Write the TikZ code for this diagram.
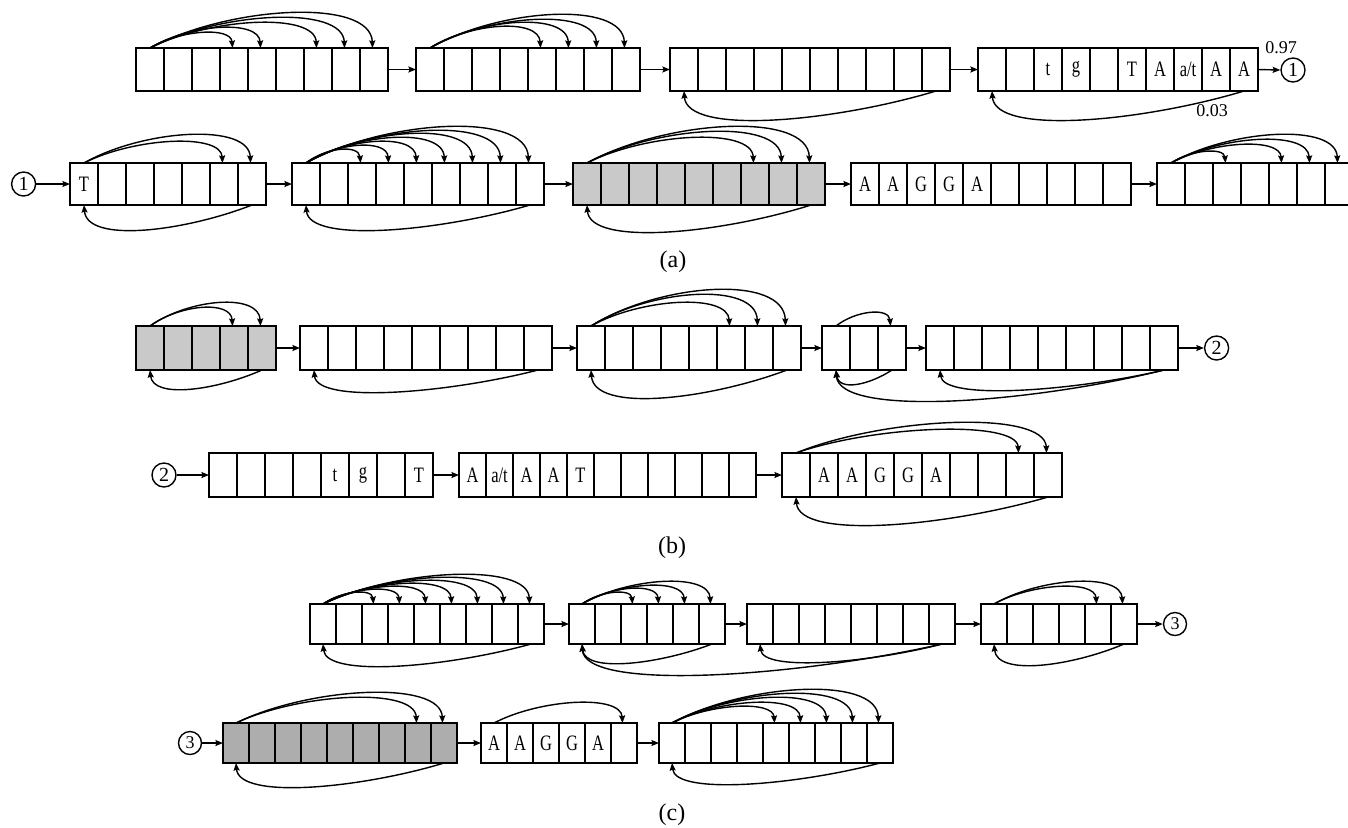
\documentclass[tikz,border=0pt]{standalone}
\usepackage{fontspec}
\setmainfont{Liberation Serif}
\usetikzlibrary{calc,arrows.meta}

\tikzset{
  cell/.style={rectangle, inner sep=0pt, outer sep=0pt, fill=white},
  boxline/.style={line width=0.8pt},
  shadeA/.style={fill=gray!42},
  shadeB/.style={fill=gray!64},
  link/.style={line width=0.7pt, -{Stealth[length=3.8pt,width=3pt,inset=0.6pt]}},
  celltext/.style={inner sep=0pt, font=\fontsize{11}{12}\selectfont},
  endmark/.style={draw, circle, line width=0.7pt, inner sep=0pt, minimum size=12pt, font=\fontsize{10}{11}\selectfont},
  problabel/.style={inner sep=0pt, font=\fontsize{9}{10}\selectfont},
  panel/.style={inner sep=0pt, font=\fontsize{12}{14}\selectfont},
}

% a row of #4 cells named #1-1 ... #1-#4, left edge #2, top #3, cell width #5, height #6
\newcommand\cellblock[7]{%
  \foreach \i in {1,...,#4}{%
    \node[cell,#7,minimum width=#5*0.5pt,minimum height=#6*0.5pt,anchor=north west]
      (#1-\i) at ({#2+(\i-1)*#5},#3) {};}
  \draw[boxline] (#1-1.north west) rectangle (#1-#4.south east);
  \foreach \i in {2,...,#4}{\draw[boxline] (#1-\i.north west) -- (#1-\i.south west);}}
% forward jump drawn above a block: from cell #2 to cell #3, height #4
\newcommand\toparc[4]{%
  \draw[link] (#1-#2.north) .. controls ($(#1-#2.north)!0.35!(#1-#3.north)+(0,-1.2*#4)$)
    and ($(#1-#3.north)+(-3,-1.45*#4)$) .. ($(#1-#3.north)+(-1.5,0)$);}
% backward jump drawn below: from node #1 to node #2, depth #3
\newcommand\botarc[3]{%
  \draw[link] (#1.south) .. controls ($(#1.south)!0.4!(#2.south)+(0,1.05*#3)$)
    and ($(#2.south)+(3,1.55*#3)$) .. (#2.south);}
% condensed letter inside a cell
\newcommand\lbl[3]{\node[celltext] (#1-#2-t) at (#1-#2) {\scalebox{0.75}[1]{#3}};}

\begin{document}
\begin{tikzpicture}[x=0.5pt,y=-0.5pt]
\useasboundingbox (0,0) rectangle (1348,827);
\clip (0,0) rectangle (1348,827);

% ---------------- (a) ----------------
\cellblock{A1}{136}{48}{9}{28}{43}{}
\cellblock{A2}{416}{48}{8}{28}{43}{}
\cellblock{A3}{670}{48}{10}{28}{43}{}
\cellblock{A4}{978}{48}{10}{28}{43}{}
\lbl{A4}{3}{t}\lbl{A4}{4}{g}\lbl{A4}{6}{T}\lbl{A4}{7}{A}
\lbl{A4}{8}{a/t}\lbl{A4}{9}{A}\lbl{A4}{10}{A}
\node[endmark] (ca1) at (1293,70) {1};
\node[problabel] (pa97) at (1281,48) {0.97};
\node[problabel] (pa03) at (1212,111) {0.03};

\foreach \k/\h in {4/15,5/20,7/25,8/30,9/35}{\toparc{A1}{1}{\k}{\h}}
\foreach \k/\h in {5/21,6/25,7/28,8/33}{\toparc{A2}{1}{\k}{\h}}
\botarc{A3-10}{A3-1}{29}
\botarc{A4-10}{A4-1}{29}
\draw[link] (A1-9.east) -- (A2-1.west);
\draw[link] (A2-8.east) -- (A3-1.west);
\draw[link] (A3-10.east) -- (A4-1.west);
\draw[link] (A4-10.east) -- (ca1.west);

\node[endmark] (cb1) at (23.6,184) {1};
\cellblock{B1}{70}{163}{7}{28}{42}{}
\cellblock{B2}{292}{163}{9}{28}{42}{}
\cellblock{B3}{573}{163}{9}{28}{42}{shadeA}
\cellblock{B4}{851}{163}{10}{28}{42}{}
\cellblock{B5}{1157}{163}{7}{28}{42}{}
\lbl{B1}{1}{T}
\lbl{B4}{1}{A}\lbl{B4}{2}{A}\lbl{B4}{3}{G}\lbl{B4}{4}{G}\lbl{B4}{5}{A}

\foreach \k/\h in {6/21,7/28}{\toparc{B1}{1}{\k}{\h}}
\foreach \k/\h in {3/13,4/17,5/21,6/25,7/29,8/32,9/36}{\toparc{B2}{1}{\k}{\h}}
\foreach \k/\h in {7/25,8/31,9/36}{\toparc{B3}{1}{\k}{\h}}
\foreach \k/\h in {3/11,5/18,6/23,7/28}{\toparc{B5}{1}{\k}{\h}}
\botarc{B1-7}{B1-1}{25}
\botarc{B2-9}{B2-1}{25}
\botarc{B3-9}{B3-1}{27}
\draw[link] (cb1.east) -- (B1-1.west);
\draw[link] (B1-7.east) -- (B2-1.west);
\draw[link] (B2-9.east) -- (B3-1.west);
\draw[link] (B3-9.east) -- (B4-1.west);
\draw[link] (B4-10.east) -- (B5-1.west);

\node[panel] (capa) at (673,262) {(a)};

% ---------------- (b) ----------------
\cellblock{C1}{136}{326}{5}{28}{44}{shadeA}
\cellblock{C2}{300}{326}{9}{28}{44}{}
\cellblock{C3}{577}{326}{8}{28}{44}{}
\cellblock{C4}{822}{326}{3}{28}{44}{}
\cellblock{C5}{926}{326}{9}{28}{44}{}
\node[endmark] (cc2) at (1216.6,348) {2};

\foreach \k/\h in {4/18,5/23}{\toparc{C1}{1}{\k}{\h}}
\foreach \k/\h in {6/23,7/31,8/36}{\toparc{C3}{1}{\k}{\h}}
\toparc{C4}{1}{3}{13}
\botarc{C1-5}{C1-1}{19}
\botarc{C2-9}{C2-1}{22}
\botarc{C3-8}{C3-1}{28}
\botarc{C4-3}{C4-1}{14}
\botarc{C5-9}{C5-1}{20}
\botarc{C5-9}{C4-1}{31}
\draw[link] (C1-5.east) -- (C2-1.west);
\draw[link] (C2-9.east) -- (C3-1.west);
\draw[link] (C3-8.east) -- (C4-1.west);
\draw[link] (C4-3.east) -- (C5-1.west);
\draw[link] (C5-9.east) -- (cc2.west);

\node[endmark] (cd2) at (164,475) {2};
\cellblock{D1}{209}{453}{8}{28}{44}{}
\cellblock{D2}{459}{453}{11}{27}{44}{}
\cellblock{D3}{782}{453}{10}{28}{44}{}
\lbl{D1}{5}{t}\lbl{D1}{6}{g}\lbl{D1}{8}{T}
\lbl{D2}{1}{A}\lbl{D2}{2}{a/t}\lbl{D2}{3}{A}\lbl{D2}{4}{A}\lbl{D2}{5}{T}
\lbl{D3}{2}{A}\lbl{D3}{3}{A}\lbl{D3}{4}{G}\lbl{D3}{5}{G}\lbl{D3}{6}{A}

\foreach \k/\h in {9/23,10/30}{\toparc{D3}{1}{\k}{\h}}
\botarc{D3-10}{D3-1}{28}
\draw[link] (cd2.east) -- (D1-1.west);
\draw[link] (D1-8.east) -- (D2-1.west);
\draw[link] (D2-11.east) -- (D3-1.west);

\node[panel] (capb) at (672,548) {(b)};

% ---------------- (c) ----------------
\cellblock{E1}{310}{604}{9}{26}{40}{}
\cellblock{E2}{569}{604}{6}{26}{40}{}
\cellblock{E3}{747}{604}{8}{26}{40}{}
\cellblock{E4}{981}{604}{6}{26}{40}{}
\node[endmark,minimum size=11.5pt,font=\fontsize{9}{10}\selectfont] (ce3) at (1175,624) {3};

\foreach \k/\h in {3/11,4/14,5/17,6/20,7/23,8/26,9/29}{\toparc{E1}{1}{\k}{\h}}
\foreach \k/\h in {3/11,4/15,5/18,6/22}{\toparc{E2}{1}{\k}{\h}}
\foreach \k/\h in {5/17,6/22}{\toparc{E4}{1}{\k}{\h}}
\botarc{E1-9}{E1-1}{22}
\botarc{E2-6}{E2-1}{19}
\botarc{E3-8}{E3-1}{18}
\botarc{E3-8}{E2-1}{31}
\botarc{E4-6}{E4-1}{21}
\draw[link] (E1-9.east) -- (E2-1.west);
\draw[link] (E2-6.east) -- (E3-1.west);
\draw[link] (E3-8.east) -- (E4-1.west);
\draw[link] (E4-6.east) -- (ce3.west);

\node[endmark,minimum size=11.5pt,font=\fontsize{9}{10}\selectfont] (cf3) at (190,743) {3};
\cellblock{F1}{223}{723}{9}{26}{40}{shadeB}
\cellblock{F2}{481}{723}{6}{26}{40}{}
\cellblock{F3}{659}{723}{9}{26}{40}{}
\lbl{F2}{1}{A}\lbl{F2}{2}{A}\lbl{F2}{3}{G}\lbl{F2}{4}{G}\lbl{F2}{5}{A}

\foreach \k/\h in {8/25,9/30}{\toparc{F1}{1}{\k}{\h}}
\toparc{F2}{1}{6}{20}
\foreach \k/\h in {5/16,6/20,7/25,8/29,9/33}{\toparc{F3}{1}{\k}{\h}}
\botarc{F1-9}{F1-1}{24}
\botarc{F3-9}{F3-1}{21}
\draw[link] (cf3.east) -- (F1-1.west);
\draw[link] (F1-9.east) -- (F2-1.west);
\draw[link] (F2-6.east) -- (F3-1.west);

\node[panel] (capc) at (672,815) {(c)};
\end{tikzpicture}
\end{document}
